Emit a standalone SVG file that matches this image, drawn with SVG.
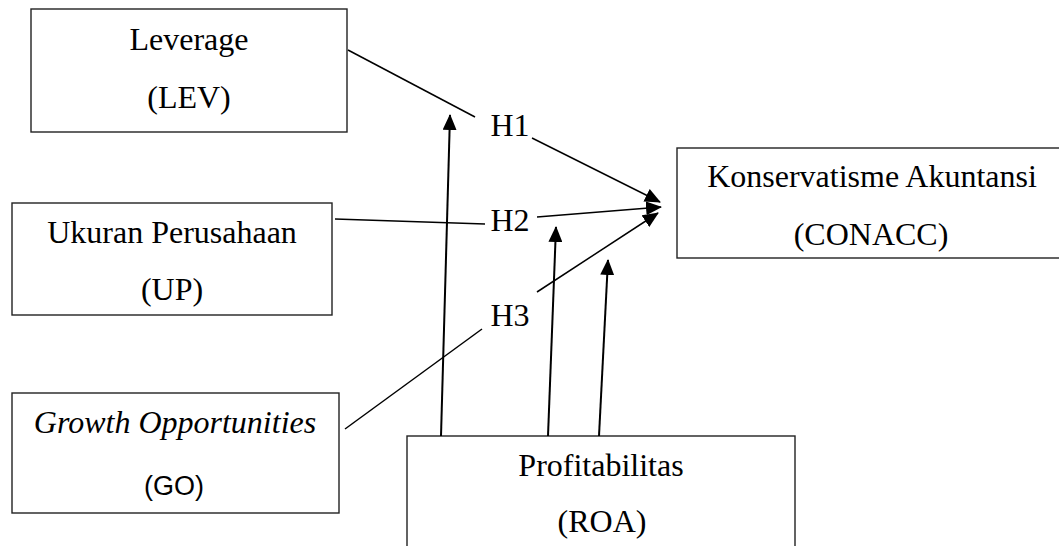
<svg xmlns="http://www.w3.org/2000/svg" width="1059" height="546" viewBox="0 0 1059 546">
<style>
.box{fill:#fff;stroke:#222;stroke-width:1.4}
.t{font-family:"Liberation Serif","Times New Roman",serif;font-size:32px;fill:#000;text-anchor:middle}
.s{font-family:"Liberation Sans",Arial,sans-serif;font-size:27px;fill:#000;text-anchor:middle}
.c{stroke:#000;stroke-width:1.5;fill:none}
.v{stroke:#000;stroke-width:2;fill:none}
</style>
<defs>
<marker id="ah" markerUnits="userSpaceOnUse" markerWidth="16" markerHeight="14" refX="15" refY="7" orient="auto">
<path d="M0,0 L16,7 L0,14 Z" fill="#000"/>
</marker>
</defs>
<rect width="1059" height="546" fill="#fff"/>
<g id="lev">
<rect class="box" x="31" y="9" width="316" height="123"/>
<text class="t" x="189" y="50">Leverage</text>
<text class="t" x="189" y="108">(LEV)</text>
</g>
<g id="up">
<rect class="box" x="12" y="203" width="320" height="112"/>
<text class="t" x="172" y="243">Ukuran Perusahaan</text>
<text class="t" x="172" y="300">(UP)</text>
</g>
<g id="go">
<rect class="box" x="12" y="393" width="327" height="120"/>
<text class="t" x="175" y="433" font-style="italic">Growth Opportunities</text>
<text class="s" x="174" y="495">(GO)</text>
</g>
<g id="conacc">
<rect class="box" x="677" y="148" width="390" height="110"/>
<text class="t" x="872" y="187">Konservatisme Akuntansi</text>
<text class="t" x="871" y="245">(CONACC)</text>
</g>
<g id="roa">
<rect class="box" x="407" y="436" width="388" height="130"/>
<text class="t" x="601" y="476">Profitabilitas</text>
<text class="t" x="602" y="532">(ROA)</text>
</g>
<g id="labels">
<text class="t" x="510" y="136">H1</text>
<text class="t" x="510" y="231">H2</text>
<text class="t" x="510" y="326">H3</text>
</g>
<g id="connectors">
<line class="c" x1="348" y1="50" x2="475" y2="117"/>
<line class="c" x1="532" y1="138" x2="660" y2="202" marker-end="url(#ah)"/>
<line class="c" x1="335" y1="219" x2="485" y2="224"/>
<line class="c" x1="537" y1="217" x2="661" y2="207" marker-end="url(#ah)"/>
<line class="c" x1="345" y1="429" x2="482" y2="329"/>
<line class="c" x1="537" y1="292" x2="658" y2="213" marker-end="url(#ah)"/>
<line class="v" x1="441" y1="436" x2="450" y2="115" marker-end="url(#ah)"/>
<line class="v" x1="548" y1="436" x2="556" y2="227" marker-end="url(#ah)"/>
<line class="v" x1="599" y1="436" x2="608" y2="260" marker-end="url(#ah)"/>
</g>
</svg>
